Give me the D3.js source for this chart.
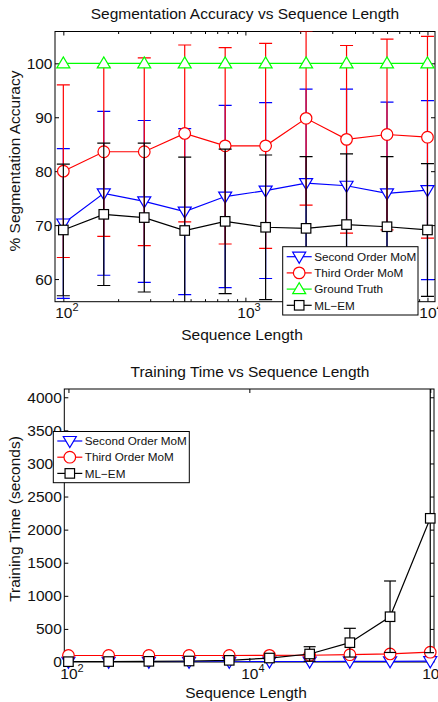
<!DOCTYPE html>
<html>
<head>
<meta charset="utf-8">
<script src="https://cdn.jsdelivr.net/npm/d3@7"></script>
<style>
body { margin: 0; background: #fff; }
svg { display: block; font-family: "Liberation Sans", Arial, Helvetica, sans-serif; }
</style>
</head>
<body>
<div id="container"></div>
<script>
const width = 438;
const height = 702;

// Top panel: segmentation accuracy
const accLength = [100, 166.8, 278.3, 464.2, 774.3, 1291.5, 2154.4, 3593.8, 5994.8, 10000];
const accSecond = [70.3, 75.9, 74.4, 72.5, 75.3, 76.4, 77.8, 77.3, 75.9, 76.5];
const accSecondErr = [13.9, 15.2, 15.0, 15.4, 16.9, 16.3, 17.4, 17.9, 16.9, 16.6];
const accThird = [80.0, 83.6, 83.6, 87.0, 84.7, 84.7, 89.8, 85.9, 86.8, 86.3];
const accThirdErr = [16.0, 15.7, 17.4, 16.4, 18.2, 19.0, 16.1, 17.4, 17.7, 18.7];
const accTruth = [100, 100, 100, 100, 100, 100, 100, 100, 100, 100];
const accEM = [69.1, 72.0, 71.4, 69.0, 70.7, 69.6, 69.4, 70.1, 69.7, 69.1];
const accEMErr = [12.2, 13.2, 13.8, 13.6, 13.4, 13.4, 13.3, 13.1, 13.0, 12.3];
const accYTicks = [60, 70, 80, 90, 100];
const accXTicks = [100, 1000, 10000];
const accXMinor = [200, 300, 400, 500, 600, 700, 800, 900, 2000, 3000, 4000, 5000, 6000, 7000, 8000, 9000];

// Bottom panel: training time
const timeLength = [100, 278.3, 774.3, 2154.4, 5994.8, 16681, 46416, 129155, 359381, 1000000];
const timeSecond = [2, 2, 3, 3, 4, 5, 6, 8, 10, 12];
const timeThird = [98, 98, 98, 98, 98, 100, 102, 110, 122, 148];
const timeEM = [5, 7, 10, 15, 25, 60, 121, 292, 684, 2171];
const timeEMErr = [0, 0, 0, 0, 0, 0, 110, 217, 540, 2030];
const timeYTicks = [0, 500, 1000, 1500, 2000, 2500, 3000, 3500, 4000];
const timeXTicks = [100, 10000, 1000000];

const names = ["Second Order MoM", "Third Order MoM", "Ground Truth", "ML\u2212EM"];

const svg = d3.select("#container")
	.append("svg")
	.attr("width", width)
	.attr("height", height);

const fontSize = 15.5;

// marker shapes like matlab's
function addMarker(sel, type, color) {
	if (type === "o") {
		return sel.append("circle").attr("r", 5.8)
			.attr("fill", "#fff").attr("stroke", color).attr("stroke-width", 1.2);
	}
	if (type === "s") {
		return sel.append("rect").attr("x", -4.75).attr("y", -4.75)
			.attr("width", 9.5).attr("height", 9.5)
			.attr("fill", "#fff").attr("stroke", color).attr("stroke-width", 1.2);
	}
	const d = type === "v" ? "M-6.5,-4.5L6.5,-4.5L0,6.5Z" : "M-6.5,4.5L6.5,4.5L0,-6.5Z";
	return sel.append("path").attr("d", d)
		.attr("fill", "#fff").attr("stroke", color).attr("stroke-width", 1.2);
}

function drawPanel(p) {
	const x = d3.scaleLog().domain(p.xDomain).range([p.left, p.right]);
	const y = d3.scaleLinear().domain(p.yDomain).range([p.bottom, p.top]);
	const g = svg.append("g");

	g.append("clipPath").attr("id", p.id + "-clip")
		.append("rect")
		.attr("x", p.left).attr("y", p.top)
		.attr("width", p.right - p.left).attr("height", p.bottom - p.top);

	// axes box
	g.append("rect")
		.attr("x", p.left).attr("y", p.top)
		.attr("width", p.right - p.left).attr("height", p.bottom - p.top)
		.attr("fill", "none").attr("stroke", "#000").attr("stroke-width", 1);

	// ticks (inside, both sides)
	const axBottom = g.append("g").attr("transform", `translate(0,${p.bottom})`)
		.call(d3.axisBottom(x).tickValues(p.xTicks).tickSize(-4).tickSizeOuter(0).tickPadding(p.xPad));
	g.append("g").attr("transform", `translate(0,${p.top})`)
		.call(d3.axisTop(x).tickValues(p.xTicks).tickSize(-4).tickSizeOuter(0).tickFormat(""));
	if (p.xMinor) {
		g.append("g").attr("transform", `translate(0,${p.bottom})`)
			.call(d3.axisBottom(x).tickValues(p.xMinor).tickSize(-2.5).tickSizeOuter(0).tickFormat(""));
		g.append("g").attr("transform", `translate(0,${p.top})`)
			.call(d3.axisTop(x).tickValues(p.xMinor).tickSize(-2.5).tickSizeOuter(0).tickFormat(""));
	}
	g.append("g").attr("transform", `translate(${p.left},0)`)
		.call(d3.axisLeft(y).tickValues(p.yTicks).tickSize(-4).tickSizeOuter(0).tickPadding(2.5).tickFormat(d3.format("d")));
	g.append("g").attr("transform", `translate(${p.right},0)`)
		.call(d3.axisRight(y).tickValues(p.yTicks).tickSize(-4).tickSizeOuter(0).tickFormat(""));

	g.selectAll(".domain").remove();
	g.selectAll(".tick line").attr("stroke", "#000");
	g.selectAll(".tick text").attr("fill", "#111").attr("font-size", fontSize)
		.attr("font-family", "Liberation Sans, Arial, sans-serif");

	// 10^n labels
	axBottom.selectAll(".tick text").each(function(d) {
		const t = d3.select(this);
		t.text(null).attr("text-anchor", "start").attr("x", -8.6);
		t.append("tspan").text("10");
		t.append("tspan").attr("dy", -7).attr("font-size", 11).text(Math.round(Math.log10(d)));
	});

	// data series
	p.series.forEach(s => {
		const pts = p.xs.map((xv, i) => ({ x: xv, y: s.values[i], e: s.err ? s.err[i] : 0 }));
		const sg = g.append("g");
		const clipped = sg.append("g").attr("clip-path", `url(#${p.id}-clip)`);
		const bars = clipped.selectAll(".bar").data(pts.filter(d => d.e > 0)).enter().append("g");
		bars.append("line")
			.attr("x1", d => x(d.x)).attr("x2", d => x(d.x))
			.attr("y1", d => y(d.y - d.e)).attr("y2", d => y(d.y + d.e));
		bars.append("line")
			.attr("x1", d => x(d.x) - p.cap).attr("x2", d => x(d.x) + p.cap)
			.attr("y1", d => y(d.y + d.e)).attr("y2", d => y(d.y + d.e));
		bars.append("line")
			.attr("x1", d => x(d.x) - p.cap).attr("x2", d => x(d.x) + p.cap)
			.attr("y1", d => y(d.y - d.e)).attr("y2", d => y(d.y - d.e));
		bars.selectAll("line").attr("stroke", s.color).attr("stroke-width", 1.2);

		clipped.append("path").datum(pts)
			.attr("fill", "none").attr("stroke", s.color).attr("stroke-width", 1.2)
			.attr("d", d3.line().x(d => x(d.x)).y(d => y(d.y)));

		pts.forEach(d => {
			const m = sg.append("g").attr("transform", `translate(${x(d.x)},${y(d.y)})`);
			addMarker(m, s.marker, s.color);
		});
	});

	// labels
	svg.append("text").attr("x", p.titleX).attr("y", p.titleY)
		.attr("text-anchor", "middle").attr("font-size", fontSize).attr("fill", "#111")
		.text(p.title);
	svg.append("text").attr("x", p.xLabelX).attr("y", p.xLabelY)
		.attr("text-anchor", "middle").attr("font-size", fontSize).attr("fill", "#111")
		.text("Sequence Length");
	svg.append("text").attr("transform", `translate(${p.yLabelX},${p.yLabelY}) rotate(-90)`)
		.attr("text-anchor", "middle").attr("font-size", p.yLabelSize).attr("fill", "#111")
		.text(p.yLabel);

	// legend
	const L = p.legend;
	const lg = svg.append("g");
	lg.append("rect").attr("x", L.x).attr("y", L.y).attr("width", L.w).attr("height", L.h)
		.attr("fill", "#fff").attr("stroke", "#000").attr("stroke-width", 1);
	p.series.forEach((s, i) => {
		const cy = L.y + L.first + i * L.step;
		lg.append("line").attr("x1", L.x + 4).attr("x2", L.x + 29).attr("y1", cy).attr("y2", cy)
			.attr("stroke", s.color).attr("stroke-width", 1.2);
		addMarker(lg.append("g").attr("transform", `translate(${L.x + 16.5},${cy})`), s.marker, s.color);
		lg.append("text").attr("x", L.x + 31.5).attr("y", cy + 4.2)
			.attr("font-size", 11.7).attr("fill", "#111").text(s.name);
	});
}

drawPanel({
	id: "acc",
	left: 55, right: 435, top: 31.5, bottom: 301.7,
	xDomain: [90, 11000], yDomain: [55.8, 105.9],
	xs: accLength, xTicks: accXTicks, xMinor: accXMinor, yTicks: accYTicks, xPad: 5, cap: 6.5,
	series: [
		{ name: names[0], values: accSecond, err: accSecondErr, color: "#0000ff", marker: "v" },
		{ name: names[1], values: accThird, err: accThirdErr, color: "#ff0000", marker: "o" },
		{ name: names[2], values: accTruth, err: null, color: "#00ff00", marker: "^" },
		{ name: names[3], values: accEM, err: accEMErr, color: "#000000", marker: "s" }
	],
	title: "Segmentation Accuracy vs Sequence Length", titleX: 245, titleY: 19,
	xLabelX: 242, xLabelY: 339.5,
	yLabel: "% Segmentation Accuracy", yLabelX: 20, yLabelY: 161, yLabelSize: fontSize,
	legend: { x: 282.7, y: 246.7, w: 135.3, h: 68.3, first: 10, step: 16.2 }
});

drawPanel({
	id: "time",
	left: 64.3, right: 434, top: 389, bottom: 662,
	xDomain: [90, 1.1e6], yDomain: [0, 4125],
	xs: timeLength, xTicks: timeXTicks, xMinor: null, yTicks: timeYTicks, xPad: 6, cap: 6,
	series: [
		{ name: names[0], values: timeSecond, err: null, color: "#0000ff", marker: "v" },
		{ name: names[1], values: timeThird, err: null, color: "#ff0000", marker: "o" },
		{ name: names[3], values: timeEM, err: timeEMErr, color: "#000000", marker: "s" }
	],
	title: "Training Time vs Sequence Length", titleX: 250, titleY: 376.5,
	xLabelX: 246, xLabelY: 697.5,
	yLabel: "Training Time (seconds)", yLabelX: 20, yLabelY: 519, yLabelSize: fontSize,
	legend: { x: 53.3, y: 431.5, w: 136, h: 51.2, first: 9.5, step: 16.2 }
});
</script>
</body>
</html>
